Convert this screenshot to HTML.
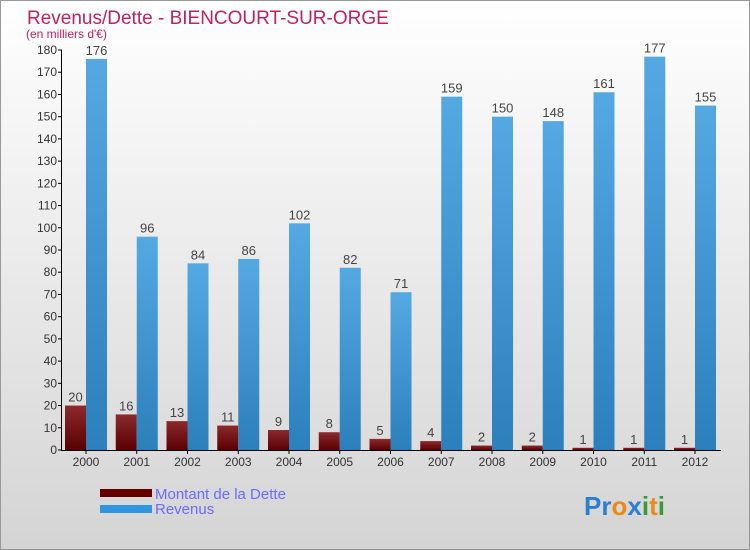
<!DOCTYPE html>
<html><head><meta charset="utf-8">
<style>
body{margin:0;}
#root{position:relative;width:750px;height:550px;overflow:hidden;font-family:"Liberation Sans",sans-serif;background:linear-gradient(#ffffff,#d4d4d4);}
svg{position:absolute;left:0;top:0;}
</style></head>
<body>
<div id="root">
<svg id="chart" width="750" height="550">
<defs>
<linearGradient id="gD" x1="0" y1="0" x2="0" y2="1"><stop offset="0" stop-color="#8c2a2e"/><stop offset="1" stop-color="#5a0000"/></linearGradient>
<linearGradient id="gR" x1="0" y1="0" x2="0" y2="1"><stop offset="0" stop-color="#55a9e3"/><stop offset="1" stop-color="#2b7fbb"/></linearGradient>
</defs>
<rect x="0.5" y="0.5" width="749" height="549" fill="none" stroke="#999"/>
<text x="27" y="24" font-size="19" fill="#c2215d">Revenus/Dette - BIENCOURT-SUR-ORGE</text>
<text x="26" y="38" font-size="12" fill="#c2215d">(en milliers d'€)</text>
<g id="grid"></g>
<g id="bars"></g>
<g id="axes"></g>
<rect x="100" y="489" width="52" height="8" fill="#650000"/>
<text x="155" y="499" font-size="15" fill="#6a6aff">Montant de la Dette</text>
<rect x="100" y="505" width="52" height="8" fill="#2e95e0"/>
<text x="155" y="514" font-size="15" fill="#6a6aff">Revenus</text>
<text x="584" y="515" font-size="26" font-weight="bold"><tspan fill="#2a7fd0">Pr</tspan><tspan fill="#e98a1a">o</tspan><tspan fill="#2a7fd0">x</tspan><tspan fill="#3a9a3a">i</tspan><tspan fill="#e98a1a">t</tspan><tspan fill="#3a9a3a">i</tspan></text>
</svg>
</div>
<script>
const years=["2000","2001","2002","2003","2004","2005","2006","2007","2008","2009","2010","2011","2012"];
const dette=[20,16,13,11,9,8,5,4,2,2,1,1,1];
const revenus=[176,96,84,86,102,82,71,159,150,148,161,177,155];
const ticks=[0,10,20,30,40,50,60,70,80,90,100,110,120,130,140,150,160,170,180];
const NS="http://www.w3.org/2000/svg";
const y0=450,yTop=50,yMax=180;
function yS(v){return y0-(v/yMax)*(y0-yTop);}
function xS(i){return 86+i*50.75;}
function mk(tag,attrs,parent){const e=document.createElementNS(NS,tag);for(const k in attrs)e.setAttribute(k,attrs[k]);parent.appendChild(e);return e;}
const bars=document.getElementById('bars'),axes=document.getElementById('axes');
years.forEach((yr,i)=>{
  const xc=xS(i);
  const d=mk('rect',{x:xc-21,y:yS(dette[i]),width:21,height:y0-yS(dette[i]),fill:'url(#gD)'},bars);
  
  
  const r=mk('rect',{x:xc,y:yS(revenus[i]),width:21,height:y0-yS(revenus[i]),fill:'url(#gR)'},bars);
  
  
  const t1=mk('text',{x:xc-10.5,y:yS(dette[i])-4,'font-size':13,fill:'#444','text-anchor':'middle'},bars);
  t1.textContent=dette[i];
  
  
  const t2=mk('text',{x:xc+10.5,y:yS(revenus[i])-4,'font-size':13,fill:'#444','text-anchor':'middle'},bars);
  t2.textContent=revenus[i];
  
  
  const tk=mk('line',{x1:xc,x2:xc,y1:y0,y2:y0+4,stroke:'#000'},axes);
  
  
  const xl=mk('text',{x:xc,y:y0+16,'font-size':12,fill:'#333','text-anchor':'middle'},axes);
  xl.textContent=yr;
  
  
});
ticks.forEach(v=>{
  const tk=mk('line',{x1:58,x2:62,y1:yS(v),y2:yS(v),stroke:'#000'},axes);
  
  
  const tl=mk('text',{x:57,y:yS(v)+4,'font-size':12,fill:'#333','text-anchor':'end'},axes);
  tl.textContent=v;
  
  
});
const ya=mk('line',{x1:61.5,x2:61.5,y1:yTop,y2:y0,stroke:'#000'},axes);


const xa=mk('line',{x1:61,x2:721,y1:y0+0.5,y2:y0+0.5,stroke:'#000'},axes);


</script>
</body></html>
